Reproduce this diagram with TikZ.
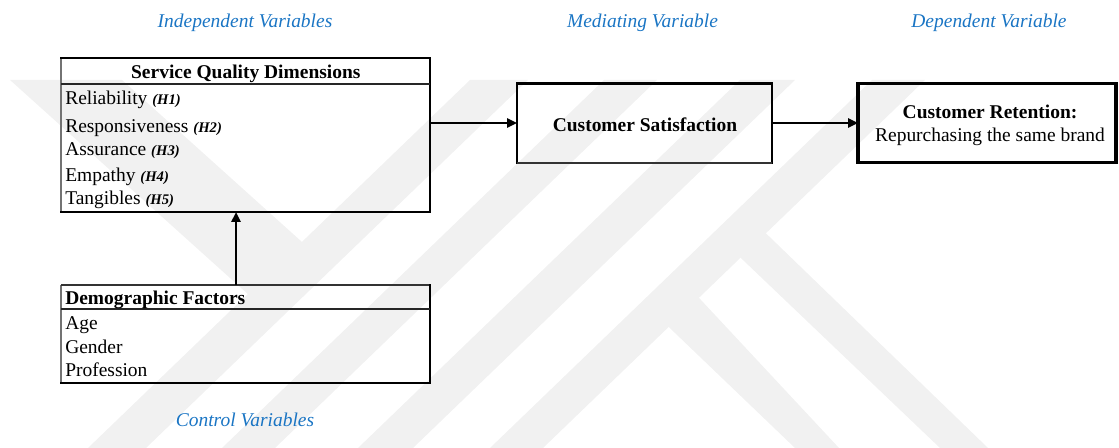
\documentclass[tikz,border=0pt]{standalone}
\usepackage{fontspec}
\setmainfont{Liberation Serif}
\usetikzlibrary{arrows.meta,calc}
\definecolor{wm}{RGB}{241,241,241}
\definecolor{lab}{RGB}{26,117,196}
\newcommand{\hypo}[1]{{\fontsize{11}{13}\selectfont\bfseries\itshape #1}}
\begin{document}
\begin{tikzpicture}[x=0.75pt,y=-0.75pt,
  frame/.style={rectangle,draw=none,inner sep=0pt,outer sep=0pt},
  heavy/.style={line width=2.2pt,black,line cap=rect},
  light/.style={line width=0.9pt,black!55},
  sepline/.style={line width=1.3pt,black!85},
  txt/.style={inner sep=0pt,font=\fontsize{14.6}{17}\selectfont},
  btxt/.style={txt,font=\fontsize{14.6}{17}\selectfont\bfseries},
  lbl/.style={inner sep=0pt,text=lab,font=\fontsize{14.6}{17}\selectfont\itshape},
  arr/.style={line width=1.9pt,-{Triangle[length=7.5pt,width=6.8pt]}}]
\useasboundingbox (0,0) rectangle (1119,448);
% watermark
\begin{scope}
\clip (0,0) rectangle (1119,448);
\fill[wm] (10,80) -- (122,80) -- (317,255.5) -- (262.8,307.5) -- cycle;
\fill[wm] (470,80) -- (528,80) -- (146,448) -- (88,448) -- cycle;
\fill[wm] (604,80) -- (657,80) -- (275,448) -- (222,448) -- cycle;
\fill[wm] (740,80) -- (795,80) -- (413,448) -- (358,448) -- cycle;
\fill[wm] (872,80) -- (925,80) -- (543,448) -- (490,448) -- cycle;
\fill[wm] (747,215) -- (988,448) -- (940,448) -- (722,240) -- cycle;
\fill[wm] (687,285) -- (839,448) -- (795,448) -- (651,310) -- cycle;
\end{scope}
% frames
\node[frame,minimum width=276.75pt,minimum height=115.5pt] (sqd) at (245.5,135) {};
\node[frame,minimum width=276.75pt,minimum height=19.5pt] (sqdh) at (245.5,71) {};
\node[frame,minimum width=276.75pt,minimum height=73.5pt] (dem) at (245.5,334) {};
\node[frame,minimum width=276.75pt,minimum height=18.2pt] (demh) at (245.5,297.2) {};
\node[frame,minimum width=191.25pt,minimum height=59.55pt] (cs) at (644.5,123) {};
\node[frame,minimum width=193.5pt,minimum height=59.55pt] (cr) at (987,123) {};
% SQD borders
\draw[light] (sqd.north west) -- (sqd.south west);
\draw[heavy] (sqd.north west) -- (sqd.north east) -- (sqd.south east) -- (sqd.south west);
\draw[sepline] (sqdh.south west) -- (sqdh.south east);
% DEM borders
\draw[light] (dem.north west) -- (dem.south west);
\draw[line width=1.6pt,black!80] (dem.north west) -- (dem.north east);
\draw[heavy] (dem.north east) -- (dem.south east) -- (dem.south west);
\draw[sepline] (demh.south west) -- (demh.south east);
% CS borders
\draw[heavy] (cs.south west) -- (cs.north west) -- (cs.north east) -- (cs.south east);
\draw[line width=1.6pt,black!80] (cs.south west) -- (cs.south east);
% CR borders
\draw[heavy,line width=2.5pt] (cr.north west) rectangle (cr.south east);
% texts
\node[btxt,anchor=base] (t0) at (245.8,78.3) {Service Quality Dimensions};
\node[txt,anchor=base west] (t1) at (65,104.3) {Reliability \hypo{(H1)}};
\node[txt,anchor=base west] (t2) at (65,132.7) {Responsiveness \hypo{(H2)}};
\node[txt,anchor=base west] (t3) at (65,155.7) {Assurance \hypo{(H3)}};
\node[txt,anchor=base west] (t4) at (65,181.7) {Empathy \hypo{(H4)}};
\node[txt,anchor=base west] (t5) at (65,204.3) {Tangibles \hypo{(H5)}};
\node[btxt,anchor=base west] (d0) at (65,305) {Demographic Factors};
\node[txt,anchor=base west] (d1) at (65,329.3) {Age};
\node[txt,anchor=base west] (d2) at (65,353.3) {Gender};
\node[txt,anchor=base west] (d3) at (65,376.7) {Profession};
\node[btxt,anchor=base] (c0) at (645,131.7) {Customer Satisfaction};
\node[btxt,anchor=base] (r0) at (990,118.3) {Customer Retention:};
\node[txt,anchor=base] (r1) at (990,141.7) {Repurchasing the same brand};
\node[lbl,anchor=base] (l1) at (245,28) {Independent Variables};
\node[lbl,anchor=base] (l2) at (642.5,28) {Mediating Variable};
\node[lbl,anchor=base] (l3) at (989,28) {Dependent Variable};
\node[lbl,anchor=base] (l4) at (245,426) {Control Variables};
% arrows
\draw[arr] (sqd.east |- cs.west) -- (cs.west);
\draw[arr] (cs.east) -- (cr.west);
\draw[arr] ([xshift=-7.1pt]dem.north) -- ([xshift=-7.1pt]sqd.south);
\end{tikzpicture}
\end{document}
